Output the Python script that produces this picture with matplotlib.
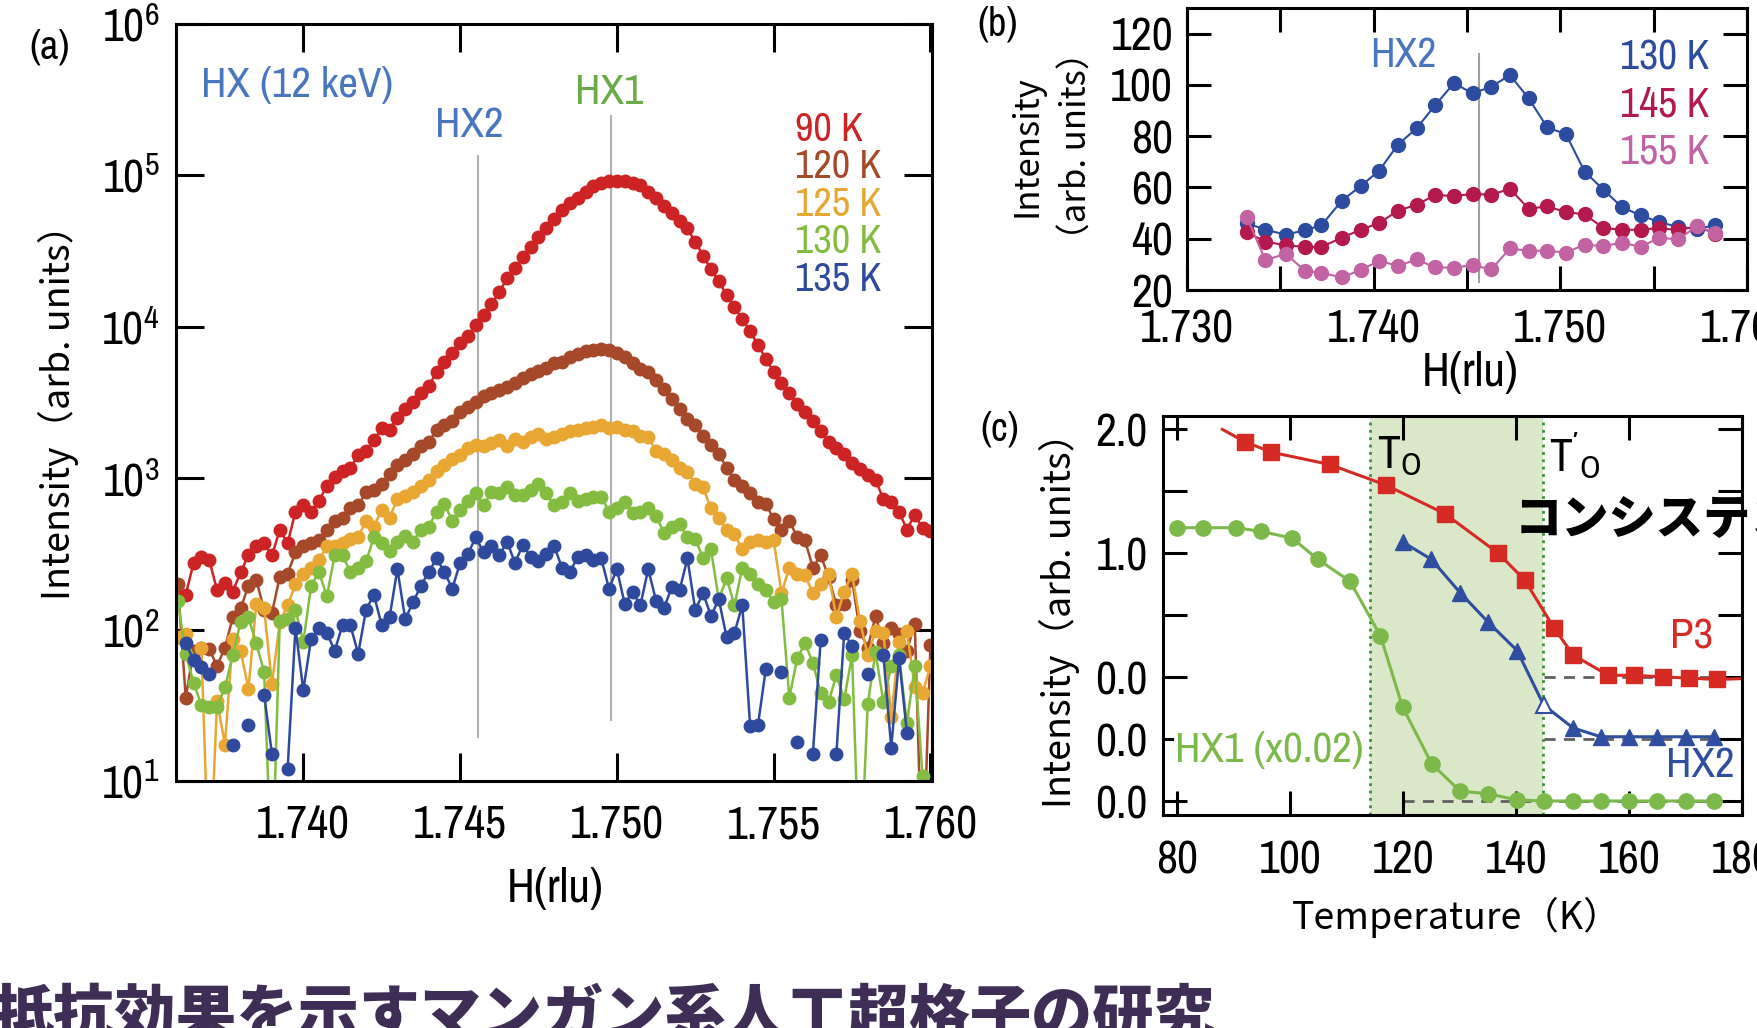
import numpy as np
import matplotlib
matplotlib.use("Agg")
import matplotlib.pyplot as plt
from matplotlib.ticker import FixedLocator, NullLocator

nan = np.nan

# ---------------- panel (a): HX scans at several temperatures ----------------
# H grid of the scan and log10(intensity)
h_scan = np.linspace(1.736, 1.760, 97)
temps_a = ["90 K", "120 K", "125 K", "130 K", "135 K"]
colors_a = ["#cc2324", "#a5492a", "#e8a733", "#84bc41", "#2f4a9d"]

log_90k = [2.22, 2.23, 2.44, 2.48, 2.46, 2.26, 2.31, 2.25, 2.38, 2.49,
           2.55, 2.57, 2.49, 2.66, 2.57, 2.78, 2.82, 2.78, 2.85, 2.95,
           3.01, 3.05, 3.07, 3.15, 3.18, 3.25, 3.33, 3.32, 3.40, 3.46,
           3.50, 3.56, 3.61, 3.70, 3.77, 3.83, 3.89, 3.94, 4.01, 4.08,
           4.15, 4.23, 4.32, 4.39, 4.46, 4.53, 4.59, 4.65, 4.71, 4.77,
           4.82, 4.85, 4.89, 4.93, 4.95, 4.962, 4.965, 4.96, 4.95, 4.935,
           4.89, 4.85, 4.80, 4.75, 4.70, 4.65, 4.56, 4.47, 4.38, 4.30,
           4.21, 4.13, 4.05, 3.97, 3.88, 3.79, 3.70, 3.63, 3.56, 3.49,
           3.44, 3.38, 3.31, 3.24, 3.20, 3.16, 3.10, 3.06, 3.02, 2.99,
           2.86, 2.84, 2.78, 2.66, 2.76, 2.67, 2.65]
log_120k = [2.30, 1.55, 1.86, 1.88, 1.87, 1.76, 1.88, 2.08, 2.14, 2.29,
            2.33, 2.13, 2.11, 2.35, 2.37, 2.51, 2.55, 2.57, 2.59, 2.66,
            2.72, 2.74, 2.80, 2.82, 2.91, 2.92, 2.96, 3.03, 3.09, 3.12,
            3.16, 3.21, 3.24, 3.32, 3.35, 3.38, 3.44, 3.47, 3.50, 3.54,
            3.56, 3.58, 3.60, 3.63, 3.66, 3.69, 3.71, 3.73, 3.76, 3.77,
            3.80, 3.82, 3.84, 3.85, 3.856, 3.85, 3.83, 3.80, 3.76, 3.72,
            3.70, 3.65, 3.59, 3.52, 3.46, 3.39, 3.35, 3.28, 3.22, 3.16,
            3.07, 2.99, 2.95, 2.90, 2.84, 2.83, 2.73, 2.66, 2.72, 2.61,
            2.59, 2.41, 2.49, 2.35, 2.16, 2.17, 2.33, 1.99, 1.88, 2.09,
            1.91, 2.01, 1.97, 1.86, 2.04, 0.3, 1.90]
log_125k = [1.95, 1.97, 1.80, 1.88, 0.3, 1.53, 1.24, 1.94, 1.86, 1.61,
            2.17, 2.14, 1.64, 2.05, 2.16, 2.30, 2.37, 2.41, 2.46, 2.55,
            2.55, 2.57, 2.60, 2.61, 2.72, 2.68, 2.79, 2.74, 2.86, 2.88,
            2.91, 2.95, 2.99, 3.05, 3.09, 3.13, 3.15, 3.20, 3.22, 3.21,
            3.23, 3.25, 3.21, 3.26, 3.24, 3.27, 3.29, 3.26, 3.27, 3.29,
            3.31, 3.32, 3.33, 3.34, 3.35, 3.33, 3.34, 3.32, 3.31, 3.28,
            3.27, 3.18, 3.16, 3.12, 3.07, 3.04, 2.96, 2.94, 2.80, 2.74,
            2.66, 2.63, 2.53, 2.58, 2.59, 2.58, 2.59, 2.24, 2.41, 2.37,
            2.36, 2.24, 2.30, 2.37, 2.08, 2.25, 2.37, 2.06, 1.83, 1.99,
            1.98, 1.42, 1.92, 1.99, 1.62, 1.58, 1.76]
log_130k = [2.19, 1.84, 1.65, 1.50, 1.49, 1.49, 1.62, 1.83, 2.05, 2.08,
            1.91, 1.72, 0.3, 2.06, 2.07, 2.13, 1.92, 2.29, 2.38, 2.22,
            2.49, 2.49, 2.38, 2.41, 2.45, 2.61, 2.57, 2.52, 2.58, 2.62,
            2.58, 2.66, 2.68, 2.78, 2.83, 2.72, 2.79, 2.85, 2.90, 2.82,
            2.91, 2.90, 2.94, 2.89, 2.89, 2.92, 2.96, 2.90, 2.82, 2.84,
            2.90, 2.85, 2.86, 2.875, 2.875, 2.78, 2.80, 2.84, 2.77, 2.78,
            2.80, 2.75, 2.64, 2.68, 2.70, 2.61, 2.60, 2.47, 2.53, 2.20,
            2.34, 2.16, 2.41, 2.37, 2.30, 2.26, 2.18, 2.20, 1.55, 1.81,
            1.91, 1.78, 1.58, 1.52, 1.70, 1.54, 1.83, 0.3, 1.51, 1.85,
            1.52, 1.76, 1.83, 1.38, 1.76, 1.03, nan]
log_135k = [nan, 1.91, 1.80, 1.75, 1.71, nan, nan, 1.24, nan, 1.37,
            nan, 1.57, 1.18, nan, 1.08, 2.01, 1.60, 1.94, 2.01, 1.98,
            1.86, 2.03, 2.03, 1.84, 2.13, 2.23, 2.03, 2.08, 2.40, 2.07,
            2.18, 2.29, 2.38, 2.47, 2.38, 2.27, 2.44, 2.50, 2.61, 2.51,
            2.55, 2.49, 2.58, 2.44, 2.56, 2.48, 2.45, 2.50, 2.55, 2.41,
            2.38, 2.48, 2.49, 2.46, 2.47, 2.27, 2.40, 2.17, 2.25, 2.16,
            2.40, 2.19, 2.14, 2.28, 2.26, 2.47, 2.13, 2.24, 2.09, 2.20,
            1.95, 1.98, 2.16, 1.36, 1.37, 1.74, nan, 1.72, nan, 1.26,
            nan, 1.18, 1.93, nan, 1.18, 1.98, 1.89, nan, 1.71, nan,
            1.83, 1.22, 1.81, 1.32, nan, nan, nan]
logs_a = [log_90k, log_120k, log_125k, log_130k, log_135k]

# guide lines for the two peaks: H position, log10 span
hx2_h, hx2_span = 1.74556, (1.29, 5.13)
hx1_h, hx1_span = 1.74981, (1.40, 5.39)

# ---------------- panel (b): HX2 region, linear scale ----------------
h_b = [1.7332, 1.7342, 1.7353, 1.7363, 1.7372, 1.7383, 1.7393, 1.7403, 1.7413,
       1.7423, 1.7433, 1.7443, 1.7453, 1.7463, 1.7473, 1.7483, 1.7493, 1.7503,
       1.7513, 1.7523, 1.7533, 1.7543, 1.7553, 1.7563, 1.7573, 1.7583]
int_130k = [46.1, 43.5, 41.6, 43.3, 45.2, 54.9, 60.5, 66.6, 76.7, 83.1, 92.1,
            100.7, 96.7, 99.3, 103.8, 94.8, 83.4, 80.8, 66.2, 59.2, 52.3, 49.1,
            46.5, 44.6, 43.9, 45.2]
int_145k = [42.6, 38.8, 37.5, 36.8, 36.8, 40.4, 43.5, 46.1, 51.0, 53.2, 57.1,
            56.6, 57.5, 57.1, 59.5, 51.7, 52.6, 50.4, 49.5, 44.2, 43.5, 43.5,
            44.2, 43.3, 44.8, 42.0]
int_155k = [48.5, 31.6, 34.2, 27.5, 26.7, 24.9, 27.8, 31.4, 29.4, 31.9, 28.8,
            28.7, 29.7, 28.0, 36.2, 35.3, 35.3, 34.6, 37.7, 37.1, 38.5, 36.8,
            40.4, 39.7, 44.8, 42.4]
temps_b = ["130 K", "145 K", "155 K"]
colors_b = ["#2d4c9f", "#b3194d", "#c263a3"]
hx2_h_b, hx2_span_b = 1.74562, (23.2, 111.9)

# ---------------- panel (c): temperature dependence (offset curves) ----------------
t_p3 = [92.0, 96.7, 107.0, 116.9, 127.4, 136.8, 141.5, 146.7, 150.1, 156.3,
        160.9, 166.1, 170.7, 175.5]
i_p3 = [1.90, 1.816, 1.717, 1.552, 1.32, 1.003, 0.787, 0.40, 0.181, 0.017,
        0.017, 0.003, -0.006, -0.017]
p3_guide_ends = [(88.0, 2.0), (180.0, -0.01)]
t_hx2 = [119.9, 125.0, 130.1, 135.0, 140.2, 144.9, 150.1, 155.0, 160.0, 165.0,
         170.1, 175.0]
i_hx2 = [1.093, 0.952, 0.683, 0.448, 0.215, -0.224, -0.408, -0.479, -0.479,
         -0.479, -0.479, -0.479]
t_hx1 = [80.0, 84.5, 90.5, 94.8, 100.4, 104.9, 110.6, 116.0, 119.9, 125.1,
         130.1, 135.0, 140.2, 144.9, 150.1, 155.0, 160.0, 165.0, 170.1, 175.1]
i_hx1 = [1.207, 1.207, 1.207, 1.178, 1.122, 0.952, 0.776, 0.334, -0.238, -0.700,
         -0.918, -0.938, -0.989, -0.997, -0.997, -0.997, -0.997, -0.997, -0.997,
         -0.997]
baselines = [(0.0, 145.0), (-0.5, 145.0), (-1.0, 120.0)]  # (offset, start T)
t_o, t_o_prime = 114.2, 144.8

NARROW = ["Archivo Narrow", "DejaVu Sans"]
JP = ["Noto Sans CJK JP", "DejaVu Sans"]
plt.rcParams["font.family"] = NARROW
plt.rcParams["font.stretch"] = "condensed"
plt.rcParams["axes.linewidth"] = 2.2

W, H = 1757, 1028
fig = plt.figure(figsize=(W / 100, H / 100), dpi=100)


def fx(x):
    return x / W


def fy(y):
    return 1 - y / H


TICK_FS = 33

# ---- (a) ----
ax_a = fig.add_axes([fx(176), fy(781), (932 - 176) / W, (781 - 24) / H])
ax_a.plot([hx2_h, hx2_h], 10 ** np.array(hx2_span), color="#b0b0b0", lw=1.5, zorder=1)
ax_a.plot([hx1_h, hx1_h], 10 ** np.array(hx1_span), color="#b0b0b0", lw=1.5, zorder=1)
for logs, c in zip(logs_a, colors_a):
    ax_a.plot(h_scan, 10 ** np.array(logs), "-o", color=c, ms=9, lw=1.8, zorder=2)
ax_a.set_yscale("log")
ax_a.set_xlim(1.73594, 1.76005)
ax_a.set_ylim(10, 1e6)
ax_a.yaxis.set_major_locator(FixedLocator([1e1, 1e2, 1e3, 1e4, 1e5, 1e6]))
ax_a.yaxis.set_minor_locator(NullLocator())
ax_a.set_yticklabels([r"$\mathregular{10^{%d}}$" % k for k in range(1, 7)])
ax_a.set_xticks([1.740, 1.745, 1.750, 1.755, 1.760])
ax_a.set_xticklabels(["1.740", "1.745", "1.750", "1.755", "1.760"])
ax_a.tick_params(direction="in", length=20, width=2.2, top=True, right=True,
                 labelsize=TICK_FS)
ax_a.tick_params(axis="x", pad=17)
ax_a.tick_params(axis="y", pad=12)

ax_a.text(1.73675, 10 ** 5.60, "HX (12 keV)", color="#4a76c0", fontsize=31, va="center")
ax_a.text(1.74529, 10 ** 5.33, "HX2", color="#4a76c0", fontsize=31, va="center", ha="center")
ax_a.text(1.74975, 10 ** 5.55, "HX1", color="#6aaa48", fontsize=31, va="center", ha="center")
for k, (lab, c) in enumerate(zip(temps_a, colors_a)):
    ax_a.text(1.75569, 10 ** (5.306 - 0.248 * k), lab, color=c, fontsize=29, va="center")

# ---- (b) ----
ax_b = fig.add_axes([fx(1187), fy(290), (1747 - 1187) / W, (290 - 8) / H])
ax_b.plot([hx2_h_b, hx2_h_b], hx2_span_b, color="#a0a0a0", lw=1.5, zorder=1)
for vals, c in zip([int_130k, int_145k, int_155k], colors_b):
    ax_b.plot(h_b, vals, "-o", color=c, ms=10, lw=1.5, zorder=2)
ax_b.set_xlim(1.730, 1.7597)
ax_b.set_ylim(20, 130)
ax_b.set_xticks([1.730, 1.740, 1.750, 1.760])
ax_b.set_xticklabels(["1.730", "1.740", "1.750", "1.760"])
ax_b.set_xticks([1.735, 1.745, 1.755], minor=True)
ax_b.set_yticks([20, 40, 60, 80, 100, 120])
ax_b.tick_params(which="both", direction="in", length=17, width=2.2, top=True,
                 right=True, labelsize=TICK_FS)
ax_b.tick_params(axis="x", pad=13)
ax_b.tick_params(axis="y", pad=10)
ax_b.text(1.7416, 111.8, "HX2", color="#4a76c0", fontsize=30, va="center", ha="center")
for k, (lab, c) in enumerate(zip(temps_b, colors_b)):
    ax_b.text(1.7580, 110.6 - 18.2 * k, lab, color=c, fontsize=30, va="center", ha="right")

# ---- (c) ----
ax_c = fig.add_axes([fx(1163), fy(815), (1742 - 1163) / W, (815 - 416) / H])
ax_c.axvspan(t_o, t_o_prime, color="#dae8c9", zorder=0, lw=0)
for t in (t_o, t_o_prime):
    ax_c.axvline(t, color="#3f8f3f", ls=":", lw=2.0, zorder=1)
for off, t0 in baselines:
    ax_c.plot([t0, 180], [off, off], color="#606060", ls=(0, (4, 3)), lw=2.0, zorder=1)
p3_line_t = [p3_guide_ends[0][0]] + t_p3 + [p3_guide_ends[1][0]]
p3_line_i = [p3_guide_ends[0][1]] + i_p3 + [p3_guide_ends[1][1]]
ax_c.plot(p3_line_t, p3_line_i, "-", color="#d62a25", lw=2.2, zorder=2)
ax_c.plot(t_p3, i_p3, "s", color="#d62a25", ms=11, zorder=3)
ax_c.plot(t_hx2, i_hx2, "-", color="#2f4ea0", lw=2.2, zorder=2)
ax_c.plot(t_hx2[:5] + t_hx2[6:], i_hx2[:5] + i_hx2[6:], "^", color="#2f4ea0", ms=11, zorder=3)
ax_c.plot(t_hx2[5], i_hx2[5], "^", mfc="white", mec="#2f4ea0", mew=1.5, ms=11, zorder=3)
ax_c.plot(t_hx1, i_hx1, "-o", color="#7cb94a", lw=2.2, ms=11, zorder=3)
ax_c.set_xlim(77.5, 180)
ax_c.set_ylim(-1.11, 2.108)
ax_c.set_xticks([80, 100, 120, 140, 160, 180])
ax_c.yaxis.set_major_locator(FixedLocator([-1.0, -0.5, 0.0, 0.5, 1.0, 1.5, 2.0]))
ax_c.set_yticklabels(["0.0", "0.0", "0.0", "", "1.0", "", "2.0"])
ax_c.tick_params(direction="in", length=17, width=2.2, top=True, right=True,
                 labelsize=TICK_FS)
ax_c.tick_params(axis="x", pad=18)
ax_c.tick_params(axis="y", pad=11)
ax_c.text(115.3, 1.79, r"$\mathregular{T_O}$", fontsize=33, va="center")
ax_c.text(145.8, 1.79, r"$\mathregular{T'_O}$", fontsize=33, va="center")
ax_c.text(174.8, 0.33, "P3", color="#d62a25", fontsize=31, va="center", ha="right")
ax_c.text(178.6, -0.705, "HX2", color="#2f4ea0", fontsize=31, va="center", ha="right")
ax_c.text(79.7, -0.584, "HX1 (x0.02)", color="#7cb94a", fontsize=31, va="center",
          bbox=dict(facecolor="white", edgecolor="none", pad=1), zorder=4)

# ---- panel letters and axis titles ----
fig.text(fx(50), fy(47), "(a)", fontsize=29, ha="center", va="center")
fig.text(fx(998), fy(24), "(b)", fontsize=29, ha="center", va="center")
fig.text(fx(1000), fy(429), "(c)", fontsize=29, ha="center", va="center")

fig.text(fx(58), fy(403), "Intensity（arb. units）", family=JP, fontsize=27,
         rotation=90, ha="center", va="center")
fig.text(fx(555), fy(888), "H(rlu)", fontsize=34, ha="center", va="center")
fig.text(fx(1052), fy(146), "Intensity\n（arb. units）", family=JP, fontsize=25,
         rotation=90, ha="center", va="center", linespacing=1.55)
fig.text(fx(1470), fy(373), "H(rlu)", fontsize=34, ha="center", va="center")
fig.text(fx(1059), fy(611), "Intensity（arb. units）", family=JP, fontsize=27,
         rotation=90, ha="center", va="center")
fig.text(fx(1457), fy(917), "Temperature（K）", family=JP, fontsize=27,
         ha="center", va="center")

# overlaid slide text, cut by the frame
fig.text(fx(1515), fy(519), "コンシステンシー", family=JP, fontsize=34,
         weight="heavy", color="black", va="center")
fig.text(fx(-8), fy(986), "抵抗効果を示すマンガン系人工超格子の研究", family=JP,
         fontsize=44, weight="heavy", color="#3e2d55", va="top")

fig.savefig("out.png", dpi=100)
